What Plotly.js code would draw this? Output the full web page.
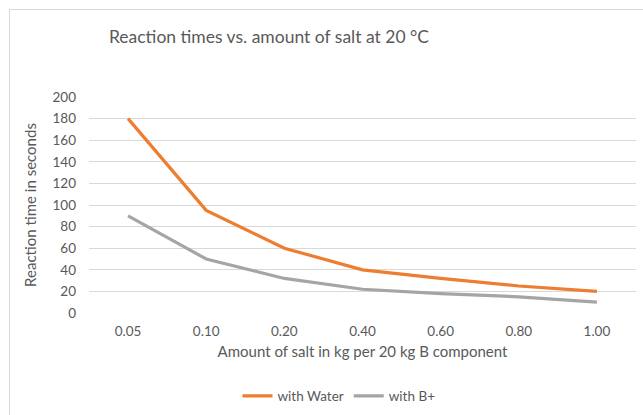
<!DOCTYPE html>
<html>
<head>
<meta charset="utf-8">
<script src="https://cdn.plot.ly/plotly-3.0.1.min.js"></script>
<style>
  html, body { margin: 0; padding: 0; background: #ffffff; }
  #frame { position: absolute; left: 9px; top: 9px; width: 700px; height: 500px; border: 1px solid #d9d9d9; box-sizing: border-box; }
  #chart { position: absolute; left: 0; top: 0; width: 643px; height: 415px; }
</style>
</head>
<body>
<div id="frame"></div>
<div id="chart"></div>
<script>
const categories = ["0.05", "0.10", "0.20", "0.40", "0.60", "0.80", "1.00"];
const withWater = [180, 95, 60, 40, 32, 25, 20];
const withBPlus = [90, 50, 32, 22, 18, 15, 10];
const yTicks = [0, 20, 40, 60, 80, 100, 120, 140, 160, 180, 200];

const FONT = "Lato, 'Open Sans', sans-serif";

const traces = [
  { x: categories, y: withWater, name: "with Water", type: "scatter", mode: "lines",
    line: { color: "#ED7D31", width: 3.2 } },
  { x: categories, y: withBPlus, name: "with B+", type: "scatter", mode: "lines",
    line: { color: "#A5A5A5", width: 3.2 } }
];

const layout = {
  width: 643, height: 415,
  paper_bgcolor: "rgba(0,0,0,0)", plot_bgcolor: "rgba(0,0,0,0)",
  margin: { l: 89, r: 7, t: 97, b: 102 },
  font: { family: FONT, color: "#595959", size: 13 },
  title: { text: "Reaction times vs. amount of salt at 20 °C", font: { size: 17.5, color: "#595959", family: FONT },
           x: 269 / 643, xanchor: "center", xref: "container", y: 1 - 37 / 415, yanchor: "middle", yref: "container" },
  xaxis: { type: "category", range: [-0.5, 6.5], showgrid: false, showline: false, zeroline: false, ticks: "",
           ticklabelstandoff: 8,
           tickfont: { size: 13.5, color: "#595959" },
           title: { text: "Amount of salt in kg per 20 kg B component", font: { size: 15, color: "#595959" }, standoff: 8 } },
  yaxis: { range: [0, 200], tickvals: yTicks, showgrid: true, gridcolor: "#d9d9d9", gridwidth: 1,
           zeroline: false, showline: false, ticks: "", ticklabelstandoff: 12,
           tickfont: { size: 13.5, color: "#595959" },
           title: { text: "Reaction time in seconds", font: { size: 15, color: "#595959" }, standoff: 12 } },
  showlegend: true,
  legend: { orientation: "h", xref: "container", yref: "container", x: 339 / 643, xanchor: "center",
            y: 1 - 396 / 415, yanchor: "middle", font: { size: 13.5, color: "#595959" }, bgcolor: "rgba(0,0,0,0)" }
};

Plotly.newPlot("chart", traces, layout, { displayModeBar: false, staticPlot: true });
</script>
</body>
</html>
